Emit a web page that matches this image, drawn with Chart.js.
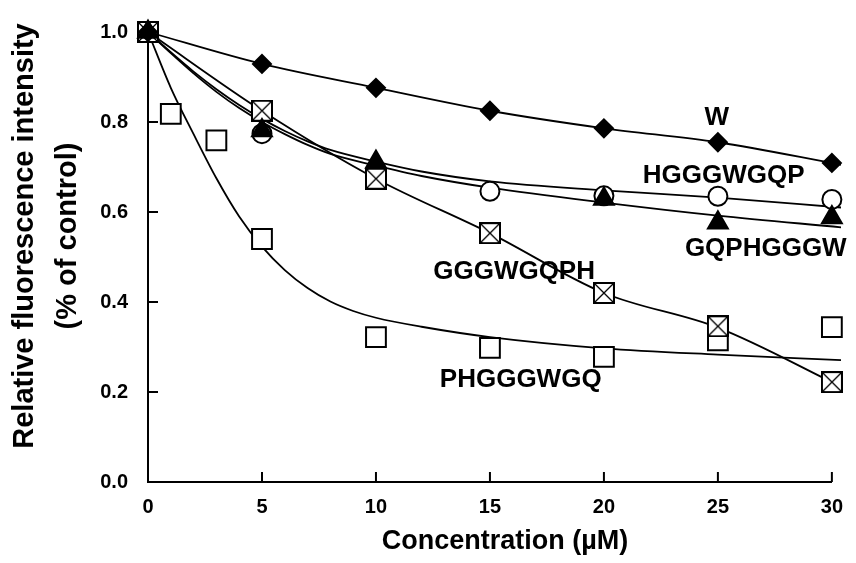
<!DOCTYPE html>
<html>
<head>
<meta charset="utf-8">
<script src="https://cdn.jsdelivr.net/npm/chart.js@4.4.1/dist/chart.umd.min.js"></script>
<style>
  html, body { margin: 0; padding: 0; background: #fff; }
</style>
</head>
<body>
<canvas id="chart" width="856" height="563"></canvas>
<script>
// measured points
const conc = [0, 5, 10, 15, 20, 25, 30];
const concPH = [0, 1, 3, 5, 10, 15, 20, 25, 30];
const valW = [1.0, 0.929, 0.876, 0.825, 0.786, 0.755, 0.709];
const valHGGGWGQP = [1.0, 0.774, 0.674, 0.646, 0.636, 0.635, 0.628];
const valGQPHGGGW = [1.0, 0.781, 0.711, null, 0.629, 0.576, 0.588];
const valGGGWGQPH = [1.0, 0.825, 0.674, 0.553, 0.42, 0.346, 0.222];
const valPHGGGWGQ = [1.0, 0.818, 0.759, 0.54, 0.322, 0.298, 0.278, 0.315, 0.344];

// fitted curves
const fitXShort = [0, 5, 10, 15, 20, 25, 30.4];
const fitW = [1.0, 0.929, 0.876, 0.825, 0.786, 0.755, 0.705];
const fitGGGWGQPH = [1.0, 0.825, 0.674, 0.553, 0.42, 0.343, 0.212];
const fitX = [0, 1, 2, 3, 4, 5, 6, 7, 8, 10, 12, 15, 20, 25, 30.4];
const fitHGGGWGQP = [1.0, 0.955, 0.912, 0.873, 0.838, 0.807, 0.78, 0.757, 0.738, 0.712, 0.69, 0.668, 0.648, 0.632, 0.61];
const fitGQPHGGGW = [1.0, 0.953, 0.908, 0.867, 0.831, 0.80, 0.773, 0.749, 0.729, 0.703, 0.68, 0.654, 0.621, 0.592, 0.566];
const fitXPH = [0, 1, 2, 3, 4, 5, 6, 7, 8, 9, 10, 12, 15, 20, 25, 30.4];
const fitPHGGGWGQ = [1.0, 0.876, 0.773, 0.675, 0.59, 0.523, 0.471, 0.431, 0.401, 0.38, 0.365, 0.345, 0.322, 0.297, 0.283, 0.271];

const xTicks = [0, 5, 10, 15, 20, 25, 30];
const yTicks = [0, 0.2, 0.4, 0.6, 0.8, 1.0];

const FONT = "'Liberation Sans', Arial, sans-serif";

const pts = (xs, ys) => xs.map((x, i) => ({ x: x, y: ys[i] }));

// square with a cross inside
function crossedSquare() {
  const c = document.createElement('canvas');
  c.width = 22; c.height = 22;
  const g = c.getContext('2d');
  g.fillStyle = '#fff';
  g.fillRect(1, 1, 20, 20);
  g.strokeStyle = '#000';
  g.lineWidth = 2;
  g.strokeRect(1, 1, 20, 20);
  g.lineWidth = 1.3;
  g.beginPath();
  g.moveTo(2, 2); g.lineTo(20, 20);
  g.moveTo(20, 2); g.lineTo(2, 20);
  g.stroke();
  return c;
}

function curve(xs, ys) {
  return {
    data: pts(xs, ys),
    showLine: true,
    borderColor: '#000',
    borderWidth: 1.8,
    pointRadius: 0,
    cubicInterpolationMode: 'monotone',
    clip: false,
    order: 10
  };
}

function marks(xs, ys, style, radius, fill, order) {
  return {
    data: pts(xs, ys),
    showLine: false,
    pointStyle: style,
    pointRadius: radius,
    pointBackgroundColor: fill,
    pointBorderColor: '#000',
    pointBorderWidth: 2,
    clip: false,
    order: order
  };
}

const labelNames = ['W', 'HGGGWGQP', 'GQPHGGGW', 'GGGWGQPH', 'PHGGGWGQ'];
const labelAnchors = [[24.95, 0.81], [25.25, 0.68], [27.1, 0.519], [16.06, 0.468], [16.35, 0.228]];

const decor = {
  id: 'decor',
  beforeDatasetsDraw(chart) {
    const ctx = chart.ctx, xs = chart.scales.x, ys = chart.scales.y;
    ctx.save();
    ctx.strokeStyle = '#000';
    ctx.lineWidth = 2;
    xTicks.forEach(v => {
      const px = xs.getPixelForValue(v);
      ctx.beginPath();
      ctx.moveTo(px, ys.bottom);
      ctx.lineTo(px, ys.bottom - 10);
      ctx.stroke();
    });
    yTicks.forEach(v => {
      const py = ys.getPixelForValue(v);
      ctx.beginPath();
      ctx.moveTo(xs.left, py);
      ctx.lineTo(xs.left + 10, py);
      ctx.stroke();
    });
    ctx.restore();
  },
  afterDraw(chart) {
    const ctx = chart.ctx, xs = chart.scales.x, ys = chart.scales.y;
    ctx.save();
    ctx.fillStyle = '#000';
    ctx.textAlign = 'center';
    ctx.textBaseline = 'middle';

    ctx.font = 'bold 26px ' + FONT;
    labelNames.forEach((name, i) => {
      ctx.fillText(name, xs.getPixelForValue(labelAnchors[i][0]), ys.getPixelForValue(labelAnchors[i][1]));
    });

    // axis titles
    ctx.font = 'bold 27px ' + FONT;
    ctx.textBaseline = 'alphabetic';
    ctx.fillText('Concentration (\u00b5M)', 505, 549);

    ctx.font = 'bold 29px ' + FONT;
    ctx.textBaseline = 'middle';
    ctx.translate(25, 236);
    ctx.rotate(-Math.PI / 2);
    ctx.fillText('Relative fluorescence intensity', 0, 0);
    ctx.fillText('(% of control)', 0, 43);
    ctx.restore();
  }
};

new Chart(document.getElementById('chart'), {
  type: 'scatter',
  data: {
    datasets: [
      curve(fitXShort, fitW),
      curve(fitX, fitHGGGWGQP),
      curve(fitX, fitGQPHGGGW),
      curve(fitXShort, fitGGGWGQPH),
      curve(fitXPH, fitPHGGGWGQ),
      marks(conc, valGQPHGGGW, 'triangle', 11.5, '#000', 1),
      marks(conc, valW, 'rectRot', 9, '#000', 2),
      marks(conc, valGGGWGQPH, crossedSquare(), 10, '#fff', 3),
      marks(conc, valHGGGWGQP, 'circle', 9.5, '#fff', 4),
      marks(concPH, valPHGGGWGQ, 'rect', 14, '#fff', 5)
    ]
  },
  options: {
    responsive: false,
    devicePixelRatio: 1,
    animation: false,
    layout: { padding: { top: 25, right: 19, bottom: 0, left: 0 } },
    plugins: { legend: { display: false }, tooltip: { enabled: false } },
    scales: {
      x: {
        type: 'linear',
        min: 0, max: 30,
        afterFit: s => { s.height = 81; },
        afterBuildTicks: s => { s.ticks = xTicks.map(v => ({ value: v })); },
        grid: { display: false, drawTicks: false },
        border: { display: true, color: '#000', width: 2 },
        ticks: {
          padding: 13,
          color: '#000',
          font: { family: FONT, size: 20, weight: 'bold' },
          callback: v => String(v)
        }
      },
      y: {
        type: 'linear',
        min: 0, max: 1,
        afterFit: s => { s.width = 148; },
        afterBuildTicks: s => { s.ticks = yTicks.map(v => ({ value: v })); },
        grid: { display: false, drawTicks: false },
        border: { display: true, color: '#000', width: 2 },
        ticks: {
          padding: 20,
          color: '#000',
          font: { family: FONT, size: 20, weight: 'bold' },
          callback: v => Number(v).toFixed(1)
        }
      }
    }
  },
  plugins: [decor]
});
</script>
</body>
</html>
